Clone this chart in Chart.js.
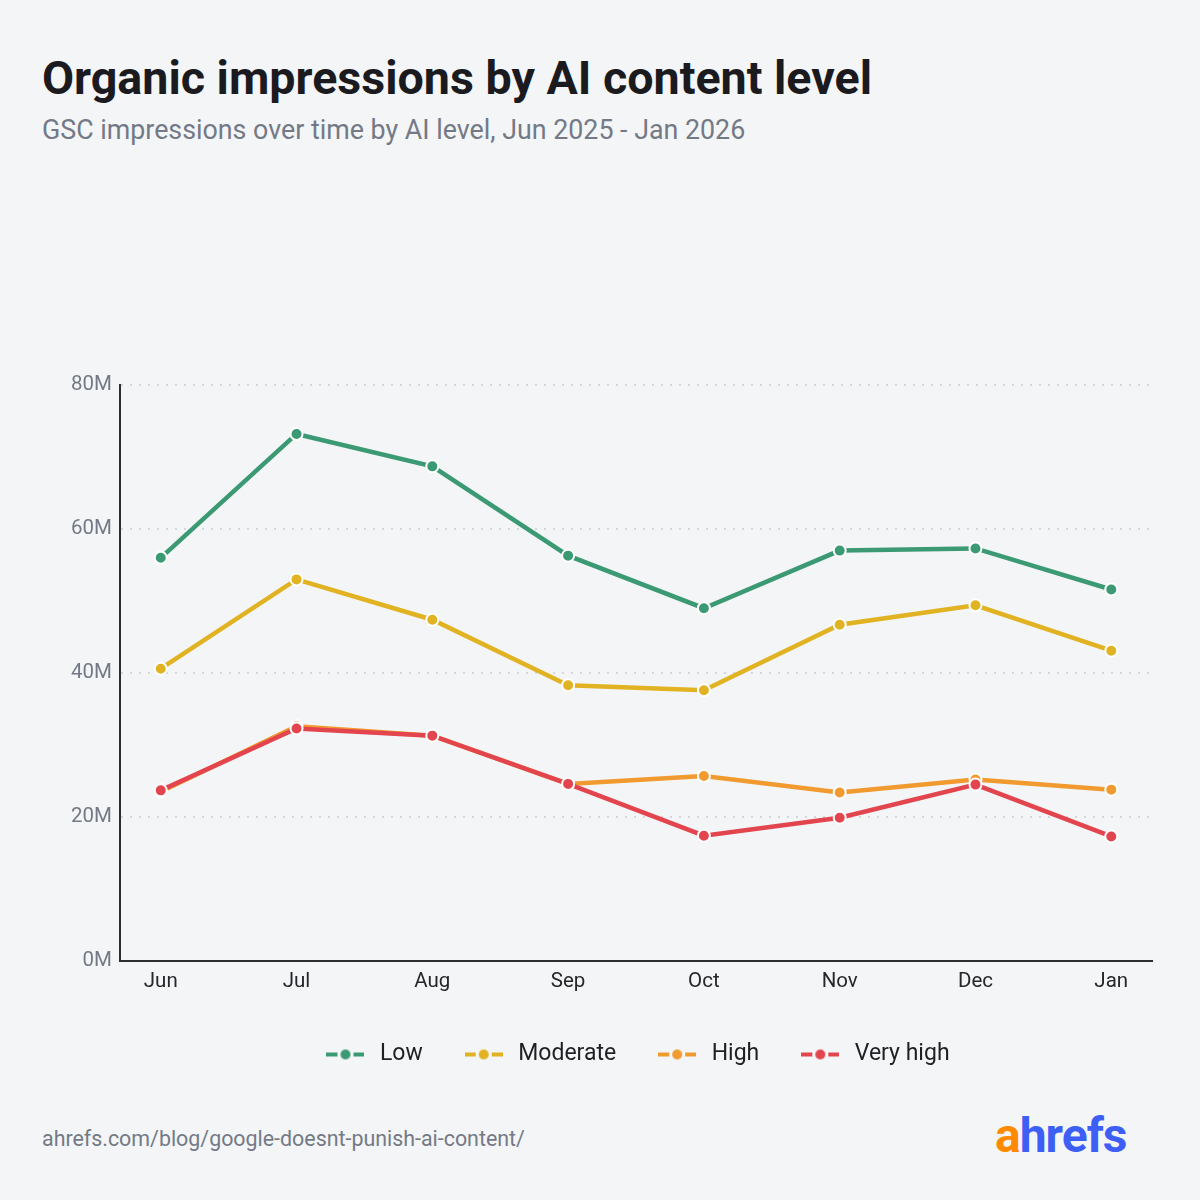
<!DOCTYPE html>
<html>
<head>
<meta charset="utf-8">
<script src="https://cdn.jsdelivr.net/npm/chart.js@4.4.1/dist/chart.umd.min.js"></script>
<style>
  html, body { margin: 0; padding: 0; }
  body { width: 1200px; height: 1200px; background: #f4f5f7; position: relative; font-family: Roboto, "Noto Sans", sans-serif; overflow: hidden; }
  #title { position: absolute; left: 42px; top: 50px; font-size: 46.6px; font-weight: 700; color: #1b1b1f; line-height: 56px; }
  #subtitle { position: absolute; left: 42px; top: 113px; font-size: 26.8px; color: #737a86; line-height: 34px; }
  #wrap { position: absolute; left: 0; top: 360px; width: 1200px; height: 716px; }
  #source { position: absolute; left: 42px; top: 1125px; font-size: 21.4px; color: #737a86; line-height: 28px; }
  #logo { position: absolute; left: 995px; top: 1108px; font-size: 48px; font-weight: 700; line-height: 56px; letter-spacing: -1px; }
  #logo .a { color: #ff8a00; }
  #logo .b { color: #3d5ff6; }
</style>
</head>
<body>
<div id="title">Organic impressions by AI content level</div>
<div id="subtitle">GSC impressions over time by AI level, Jun 2025 - Jan 2026</div>
<div id="wrap"><canvas id="myChart"></canvas></div>
<div id="source">ahrefs.com/blog/google-doesnt-punish-ai-content/</div>
<div id="logo"><span class="a">a</span><span class="b">hrefs</span></div>
<script>
const months = ['Jun', 'Jul', 'Aug', 'Sep', 'Oct', 'Nov', 'Dec', 'Jan'];
const low = [56.0, 73.2, 68.7, 56.3, 49.0, 57.0, 57.3, 51.6];
const moderate = [40.6, 53.0, 47.4, 38.3, 37.6, 46.7, 49.4, 43.1];
const high = [23.5, 32.6, 31.3, 24.6, 25.7, 23.4, 25.2, 23.8];
const veryHigh = [23.7, 32.3, 31.3, 24.6, 17.4, 19.9, 24.5, 17.3];
const yTicks = [0, 20, 40, 60, 80];

const FONT = 'Roboto, "Noto Sans", sans-serif';

// little "-o-" marker for the legend
function legendMarker(color) {
    const c = document.createElement('canvas');
    c.width = 38;
    c.height = 12;
    const g = c.getContext('2d');
    g.fillStyle = color;
    g.fillRect(0, 4, 11, 4);
    g.fillRect(27, 4, 11, 4);
    g.beginPath();
    g.arc(19, 6, 5, 0, Math.PI * 2);
    g.fill();
    return c;
}

function series(label, values, color, order) {
    return {
        label: label,
        data: values.map((v, i) => ({ x: i, y: v })),
        borderColor: color,
        backgroundColor: color,
        borderWidth: 4.5,
        pointRadius: 6,
        pointHoverRadius: 6,
        pointBackgroundColor: color,
        pointBorderColor: '#ffffff',
        pointBorderWidth: 2,
        pointStyle: 'circle',
        legendMarker: legendMarker(color),
        tension: 0,
        order: order
    };
}

// center the legend under the plot area instead of the whole canvas
const legendUnderPlot = {
    id: 'legendUnderPlot',
    afterLayout(chart) {
        const lg = chart.legend;
        const shift = (chart.chartArea.left + chart.chartArea.right) / 2 - (lg.left + lg.right) / 2;
        lg.left += shift;
        lg.right += shift;
    }
};

const ctx = document.getElementById('myChart').getContext('2d');

const myChart = new Chart(ctx, {
    type: 'line',
    data: {
        datasets: [
            series('Low', low, '#3b9a73', 3),
            series('Moderate', moderate, '#e1b323', 2),
            series('High', high, '#f19a30', 1),
            series('Very high', veryHigh, '#e3454e', 0)
        ]
    },
    plugins: [legendUnderPlot],
    options: {
        responsive: true,
        maintainAspectRatio: false,
        animation: false,
        layout: { padding: { top: 25, right: 48, left: 0, bottom: 0 } },
        scales: {
            x: {
                type: 'linear',
                min: -0.3,
                max: 7.3,
                afterBuildTicks: (scale) => { scale.ticks = months.map((m, i) => ({ value: i })); },
                afterFit: (scale) => { scale.height = 44; },
                grid: { display: false, drawTicks: false },
                border: { display: true, color: '#2e2f33', width: 2 },
                ticks: {
                    color: '#26272b',
                    font: { family: FONT, size: 20.5 },
                    padding: 9,
                    autoSkip: false,
                    maxRotation: 0,
                    callback: (v) => months[v]
                }
            },
            y: {
                min: 0,
                max: 80,
                afterBuildTicks: (scale) => { scale.ticks = yTicks.map(v => ({ value: v })); },
                afterFit: (scale) => { scale.width = 120; },
                grid: {
                    color: (c) => c.tick && c.tick.value === 0 ? 'rgba(0,0,0,0)' : '#d3d6db',
                    lineWidth: 2,
                    drawTicks: false
                },
                border: { display: true, color: '#2e2f33', width: 2, dash: [2, 7] },
                ticks: {
                    color: '#737a86',
                    font: { family: FONT, size: 20.5 },
                    padding: 8,
                    callback: (v) => v + 'M'
                }
            }
        },
        plugins: {
            title: { display: false },
            tooltip: { enabled: false },
            legend: {
                position: 'bottom',
                labels: {
                    usePointStyle: true,
                    pointStyleWidth: 46,
                    padding: 38,
                    color: '#1f2024',
                    font: { family: FONT, size: 23 },
                    sort: (a, b) => a.datasetIndex - b.datasetIndex,
                    generateLabels: (chart) => chart.data.datasets.map((ds, i) => ({
                        text: ds.label,
                        datasetIndex: i,
                        pointStyle: ds.legendMarker,
                        fillStyle: ds.borderColor,
                        strokeStyle: ds.borderColor,
                        fontColor: '#1f2024',
                        lineWidth: 0,
                        hidden: false
                    }))
                }
            }
        }
    }
});
</script>
</body>
</html>
